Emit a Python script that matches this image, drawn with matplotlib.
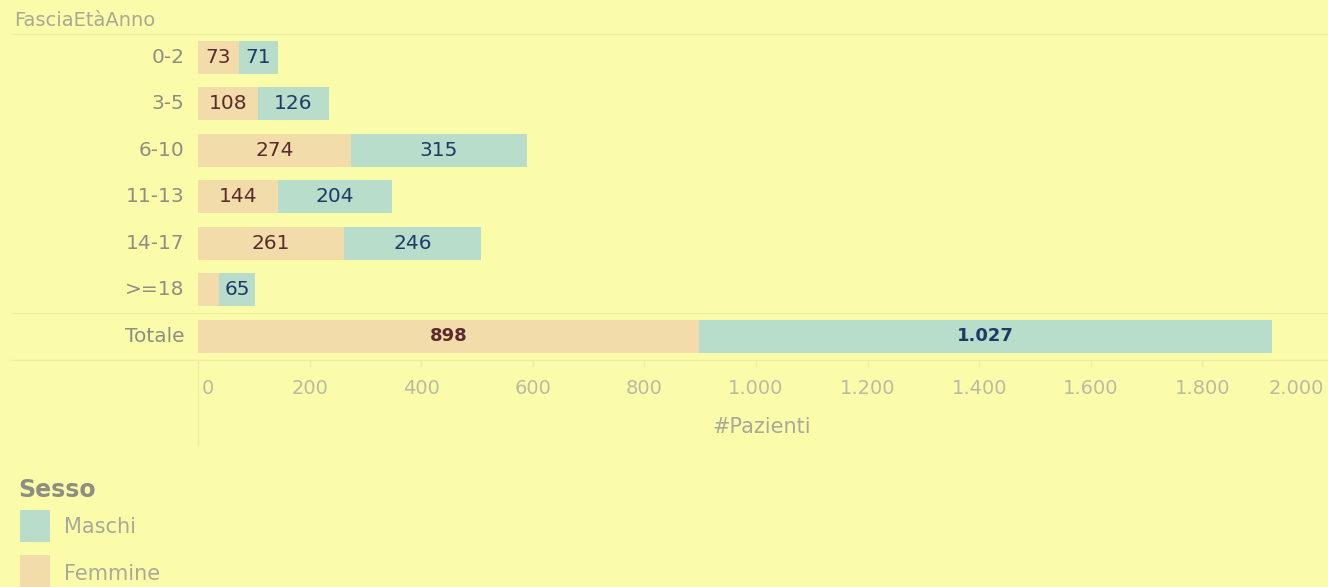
import matplotlib.pyplot as plt
from matplotlib.patches import Rectangle

plt.rcParams['font.family'] = ['DejaVu Sans']

# dati
categorie = ['0-2', '3-5', '6-10', '11-13', '14-17', '>=18', 'Totale']
femmine = [73, 108, 274, 144, 261, 38, 898]
maschi = [71, 126, 315, 204, 246, 65, 1027]
tick_vals = [0, 200, 400, 600, 800, 1000, 1200, 1400, 1600, 1800, 2000]
tick_labels = ['0', '200', '400', '600', '800', '1.000', '1.200', '1.400', '1.600', '1.800', '2.000']

BG = '#FAFCA9'
C_F = '#F2DDAA'
C_M = '#B8DDCB'
T_F = '#5A2A2E'
T_M = '#1F3A66'
LINE = '#EDEFA0'

W, H = 1328, 587
fig = plt.figure(figsize=(W / 100, H / 100), dpi=100, facecolor=BG)


def fx(px):
    return px / W


def fy(py):
    return 1 - py / H


def fmt(v):
    return f'{v:,}'.replace(',', '.')


ax = fig.add_axes([fx(198), fy(359.5), fx(1314 - 198), (359.5 - 34) / H])
ax.set_facecolor(BG)
for s in ax.spines.values():
    s.set_visible(False)

n = len(categorie)
ypos = list(range(n))
ax.barh(ypos, femmine, height=0.7, color=C_F, linewidth=0)
ax.barh(ypos, maschi, left=femmine, height=0.7, color=C_M, linewidth=0)
ax.set_xlim(0, 2000)
ax.set_ylim(n - 0.5, -0.5)
ax.set_xticks([])
ax.set_yticks([])

for i in ypos:
    bold = 'bold' if categorie[i] == 'Totale' else 'normal'
    fs = 13 if bold == 'bold' else 14.5
    if femmine[i] >= 40:
        ax.text(femmine[i] / 2, i, fmt(femmine[i]), ha='center', va='center',
                fontsize=fs, color=T_F, fontweight=bold)
    ax.text(femmine[i] + maschi[i] / 2, i, fmt(maschi[i]), ha='center', va='center',
            fontsize=fs, color=T_M, fontweight=bold)
    ax.text(-24, i, categorie[i], ha='right', va='center', fontsize=14.5, color='#8E8E84',
            clip_on=False)

# linee di separazione
fig.add_artist(plt.Line2D([fx(12), fx(1328)], [fy(34), fy(34)], color=LINE, lw=1))
fig.add_artist(plt.Line2D([fx(12), fx(1328)], [fy(313), fy(313)], color=LINE, lw=1))
fig.add_artist(plt.Line2D([fx(12), fx(1328)], [fy(359.5), fy(359.5)], color=LINE, lw=1))
fig.add_artist(plt.Line2D([fx(198), fx(198)], [fy(360), fy(445)], color=LINE, lw=1))

# etichette asse x
for v, t in zip(tick_vals, tick_labels):
    x = 198 + v * (1116 / 2000)
    ha = 'center'
    if v == 0:
        x += 4
        ha = 'left'
    elif v == 2000:
        x += 10
        ha = 'right'
    fig.text(fx(x), fy(389), t, ha=ha, va='center', fontsize=14, color='#BABBA4')
    if 0 < v < 2000:
        fig.add_artist(plt.Line2D([fx(x), fx(x)], [fy(360), fy(366)], color=LINE, lw=1))

fig.text(fx(762), fy(427), '#Pazienti', ha='center', va='center', fontsize=15, color='#A8A998')
fig.text(fx(14), fy(20), 'FasciaEtàAnno', ha='left', va='center', fontsize=14, color='#A8A998')

# legenda
fig.text(fx(18), fy(490), 'Sesso', ha='left', va='center', fontsize=17, color='#8E8E80',
         fontweight='bold', family=['DejaVu Sans Condensed', 'DejaVu Sans'])
fig.add_artist(Rectangle((fx(20), fy(542)), fx(30), 32 / H, color=C_M, lw=0))
fig.text(fx(64), fy(527), 'Maschi', ha='left', va='center', fontsize=15, color='#A8A998')
fig.add_artist(Rectangle((fx(20), fy(587)), fx(30), 32 / H, color=C_F, lw=0))
fig.text(fx(64), fy(574), 'Femmine', ha='left', va='center', fontsize=15, color='#A8A998')

fig.savefig('out.png', dpi=100, facecolor=BG)
